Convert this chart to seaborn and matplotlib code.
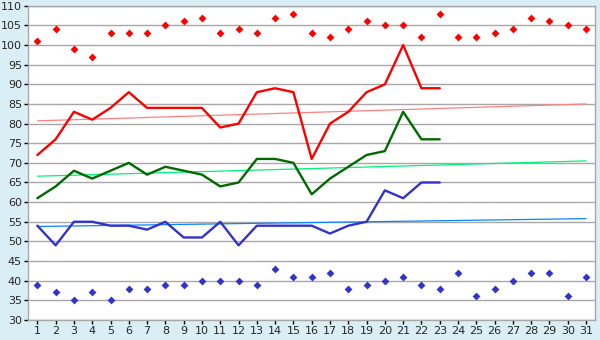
import numpy as np
import pandas as pd
import matplotlib
matplotlib.use("Agg")
import matplotlib.pyplot as plt
import seaborn as sns

# days on the x axis
days = list(range(1, 32))
line_days = list(range(1, 24))

# thick lines (days 1-23)
red_line = [72, 76, 83, 81, 84, 88, 84, 84, 84, 84, 79, 80, 88, 89, 88, 71,
            80, 83, 88, 90, 100, 89, 89]
green_line = [61, 64, 68, 66, 68, 70, 67, 69, 68, 67, 64, 65, 71, 71, 70, 62,
              66, 69, 72, 73, 83, 76, 76]
blue_line = [54, 49, 55, 55, 54, 54, 53, 55, 51, 51, 55, 49, 54, 54, 54, 54,
             52, 54, 55, 63, 61, 65, 65]

# diamond markers (days 1-31)
red_pts = [101, 104, 99, 97, 103, 103, 103, 105, 106, 107, 103, 104, 103, 107,
           108, 103, 102, 104, 106, 105, 105, 102, 108, 102, 102, 103, 104, 107,
           106, 105, 104]
blue_pts = [39, 37, 35, 37, 35, 38, 38, 39, 39, 40, 40, 40, 39, 43, 41, 41, 42,
            38, 39, 40, 41, 39, 38, 42, 36, 38, 40, 42, 42, 36, 41]

# trend lines, read at day 1 and day 31
trend_days = [1, 31]
red_trend = [80.7, 85.0]
green_trend = [66.6, 70.5]
blue_trend = [53.8, 55.8]

lines = pd.DataFrame({"day": line_days, "red": red_line,
                      "green": green_line, "blue": blue_line})
pts = pd.DataFrame({"day": days, "red": red_pts, "blue": blue_pts})
trends = pd.DataFrame({"day": trend_days, "red": red_trend,
                       "green": green_trend, "blue": blue_trend})

sns.set_style("white")
plt.rcParams["font.family"] = ["DejaVu Sans"]

bg = "#daeef5"
fig = plt.figure(figsize=(6, 3.4), dpi=100, facecolor=bg)
ax = fig.add_axes([0.047, 0.059, 0.945, 0.924])
ax.set_facecolor("white")

# trend lines
sns.lineplot(data=trends, x="day", y="red", color="#ff8080", lw=0.9, ax=ax)
sns.lineplot(data=trends, x="day", y="green", color="#00f27a", lw=0.9, ax=ax)
sns.lineplot(data=trends, x="day", y="blue", color="#0a84ff", lw=0.9, ax=ax)

# main lines
sns.lineplot(data=lines, x="day", y="red", color="#ff0000", lw=1.7, ax=ax)
sns.lineplot(data=lines, x="day", y="green", color="#006a00", lw=1.7, ax=ax)
sns.lineplot(data=lines, x="day", y="blue", color="#3333cc", lw=1.7, ax=ax)

# diamonds
sns.scatterplot(data=pts, x="day", y="red", color="#ff0000", marker="D",
                s=16, linewidth=0, ax=ax, zorder=3)
sns.scatterplot(data=pts, x="day", y="blue", color="#3333cc", marker="D",
                s=16, linewidth=0, ax=ax, zorder=3)

ax.set_xlim(0.5, 31.5)
ax.set_ylim(30, 110)
ax.set_xticks(days)
ax.set_yticks(np.arange(30, 111, 5))
ax.set_xlabel("")
ax.set_ylabel("")
ax.yaxis.grid(True, color="#a8a8a8", lw=1)
ax.xaxis.grid(False)
ax.set_axisbelow(True)
for s in ax.spines.values():
    s.set_color("#a8a8a8")
    s.set_linewidth(1)
ax.tick_params(axis="both", direction="out", length=3, width=1,
               color="black", labelsize=8, pad=1.5, left=True, bottom=True)

fig.savefig("out.png", dpi=100, facecolor=bg)
